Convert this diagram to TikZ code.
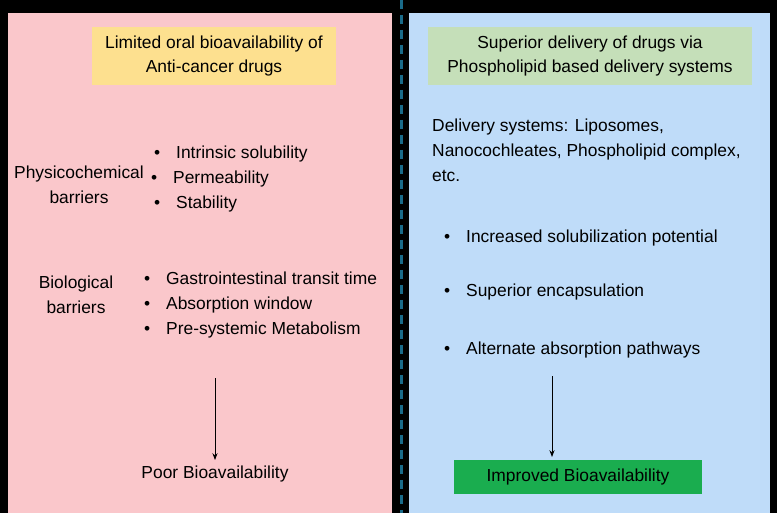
\documentclass[tikz,border=0pt]{standalone}
\usepackage{fontspec}
\setmainfont{Liberation Sans}
\usepackage{xcolor}
\definecolor{panelPink}{HTML}{FAC7CB}
\definecolor{panelBlue}{HTML}{BFDCF9}
\definecolor{titleYellow}{HTML}{FDE08F}
\definecolor{titleGreen}{HTML}{C5DFB9}
\definecolor{resultGreen}{HTML}{1AAD4F}
\definecolor{dividerTeal}{HTML}{1A6B8A}
\usetikzlibrary{positioning,arrows.meta}
\tikzset{
  txt/.style={
    font=\fontsize{17.4}{21}\selectfont,
    align=left,
    inner sep=0pt
 },
  ctxt/.style={
    txt,
    align=center
 },
  arrowLine/.style={
    -{Stealth[length=2.4mm,width=1.8mm]},
    thick
 }
}
\newcommand{\bul}{\makebox[22pt][l]{\textbullet}}
\begin{document}
\begin{tikzpicture}[x=1pt,y=-1pt]
  \useasboundingbox (0,0) rectangle (777,513);
  \fill[black] (0,0) rectangle (777,513);
  % panels
  \fill[panelPink] (8,13) rectangle (392,513);
  \fill[panelBlue] (409,13) rectangle (770,513);
  \draw[dividerTeal, line width=3pt, dash pattern=on 9pt off 6pt] (401,0) -- (401,513);

  % left panel
  \node[ctxt, fill=titleYellow, minimum width=244, minimum height=58] (ltitle) at (214,56) {Limited oral bioavailability of\\[3pt]Anti-cancer drugs};
  \node[ctxt, anchor=west] (phys) at (14,185) {Physicochemical\\[4pt]barriers};
  \node[txt, anchor=north west] (physlist) at (154,146)
    {\bul Intrinsic solubility\\[4pt]\hspace*{-3pt}\bul Permeability\\[4pt]\bul Stability};
  \node[ctxt] (bio) at (76,295) {Biological\\[4pt]barriers};
  \node[txt, anchor=north west] (biolist) at (144,272)
    {\bul Gastrointestinal transit time\\[4pt]\bul Absorption window\\[4pt]\bul Pre-systemic Metabolism};
  \node[ctxt] (poor) at (215,474) {Poor Bioavailability};
  \coordinate (larrow) at (215,378);
  \coordinate (lend) at (215,460);
  \draw[arrowLine] (larrow) -- (lend);

  % right panel
  \node[ctxt, fill=titleGreen, minimum width=324, minimum height=58] (rtitle) at (590,56) {Superior delivery of drugs via\\[3pt]Phospholipid based delivery systems};
  \node[txt, anchor=north west] (systems) at (432,119)
    {Delivery systems: Liposomes,\\[4pt]Nanocochleates, Phospholipid complex,\\[4pt]etc.};
  \node[txt, anchor=west] (p1) at (444,238) {\bul Increased solubilization potential};
  \node[txt, anchor=west] (p2) at (444,292) {\bul Superior encapsulation};
  \node[txt, anchor=west] (p3) at (444,350) {\bul Alternate absorption pathways};
  \node[ctxt, fill=resultGreen, minimum width=248, minimum height=34] (improved) at (578,477) {Improved Bioavailability};
  \coordinate (rarrow) at (552,376);
  \coordinate (rend) at (552,457);
  \draw[arrowLine] (rarrow) -- (rend);
\end{tikzpicture}
\end{document}
